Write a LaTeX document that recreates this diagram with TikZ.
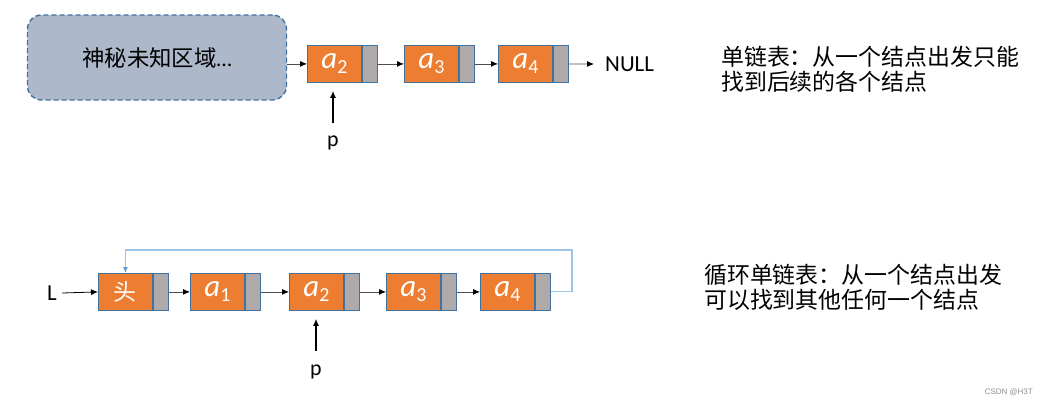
\documentclass[tikz,border=0pt]{standalone}
\usepackage{fontspec}
\setmainfont{Carlito}
\newfontfamily\cjk{Noto Sans CJK SC}
\newfontfamily\wmfont{Liberation Sans}
\usetikzlibrary{arrows.meta}
\definecolor{orangec}{HTML}{ED7D31}
\definecolor{grayc}{HTML}{AEAAAA}
\definecolor{bordc}{HTML}{41719C}
\definecolor{mystfill}{HTML}{ADB9CA}
\definecolor{loopc}{HTML}{9DC3E6}
\definecolor{looptip}{HTML}{5B9BD5}
\newcommand\ai[1]{{\fontsize{31}{31}\selectfont\itshape a}\raisebox{-5bp}{\fontsize{20}{20}\selectfont #1}}
\begin{document}
\begin{tikzpicture}[x=1bp,y=-1bp,
  databox/.style={draw=bordc, fill=orangec, line width=0.8bp, minimum width=54bp,
    minimum height=37bp, inner sep=0pt, anchor=north west, text=white},
  ptrbox/.style={draw=bordc, fill=grayc, line width=0.8bp, minimum width=15bp,
    minimum height=37bp, inner sep=0pt, anchor=west},
  link/.style={draw=black!70, line width=0.8bp, -{Latex[length=7bp,width=6bp,color=black]}},
  parrow/.style={draw=black, line width=1.3bp, -{Latex[length=7bp,width=6bp]}, shorten >=8bp},
  loopline/.style={draw=loopc, line width=1.1bp, -{Latex[length=6bp,width=5bp,color=looptip]}},
  mystery/.style={draw=bordc, dash pattern=on 5bp off 3bp, line width=1.4bp, fill=mystfill,
    rounded corners=14bp, minimum width=259bp, minimum height=85bp, inner sep=0pt},
  lbl/.style={font=\fontsize{22}{22}\selectfont, inner sep=2bp},
  desc/.style={anchor=west, align=left, inner sep=0pt, font=\cjk\fontsize{23}{25}\selectfont}]
\useasboundingbox (0,0) rectangle (1045,405);

% ---------- top: singly linked list ----------
\node[mystery] (m) at (157,57.5) {{\cjk\fontsize{22.5}{22.5}\selectfont 神秘未知区域}{\fontsize{22}{22}\selectfont\ldots}};
\node[databox] (t2) at (307,45) {\ai2};
\node[ptrbox] (t2g) at (t2.east) {};
\node[databox] (t3) at (404,45) {\ai3};
\node[ptrbox] (t3g) at (t3.east) {};
\node[databox] (t4) at (498,45) {\ai4};
\node[ptrbox] (t4g) at (t4.east) {};
\node[anchor=west, inner sep=0pt, font=\fontsize{23}{23}\selectfont] (null) at (605,64) {NULL};

\draw[link] (m.east |- t2.west) -- (t2.west);
\draw[link] (t2g.east) -- (t3.west);
\draw[link] (t3g.east) -- (t4.west);
\draw[link, shorten >=11bp] (t4g.east) -- (null.west);

\node[lbl] (p1) at (333,143) {p};
\coordinate (p1tail) at (333,123);
\draw[parrow] (p1tail) -- (p1tail |- t2.south);

\node[desc] (d1) at (721,69) {单链表：从一个结点出发只能\\找到后续的各个结点};

% ---------- bottom: circular linked list ----------
\node[databox] (h) at (98,273) {{\cjk\fontsize{23}{23}\selectfont 头}};
\node[ptrbox] (hg) at (h.east) {};
\node[databox] (b1) at (190,273) {\ai1};
\node[ptrbox] (b1g) at (b1.east) {};
\node[databox] (b2) at (289,273) {\ai2};
\node[ptrbox] (b2g) at (b2.east) {};
\node[databox] (b3) at (386,273) {\ai3};
\node[ptrbox] (b3g) at (b3.east) {};
\node[databox] (b4) at (480,273) {\ai4};
\node[ptrbox] (b4g) at (b4.east) {};

\node[font=\fontsize{23}{23}\selectfont, inner sep=2bp] (L) at (52,293) {L};
\draw[link, draw=black] (L.east) ++(3bp,0) -- (h.west);
\draw[link] (hg.east) -- (b1.west);
\draw[link] (b1g.east) -- (b2.west);
\draw[link] (b2g.east) -- (b3.west);
\draw[link] (b3g.east) -- (b4.west);

\coordinate (lc) at (572,250);
\draw[loopline] (b4g.east) -| (lc) -| (h.north);

\node[lbl] (p2) at (316,372) {p};
\coordinate (p2tail) at (316,351);
\draw[parrow] (p2tail) -- (p2tail |- b2.south);

\node[desc] (d2) at (704,287) {循环单链表：从一个结点出发\\可以找到其他任何一个结点};

\node[anchor=east, inner sep=0pt, text=black!45, font=\wmfont\fontsize{8}{8}\selectfont] (wm) at (1033,392) {CSDN @H3T};
\end{tikzpicture}
\end{document}
